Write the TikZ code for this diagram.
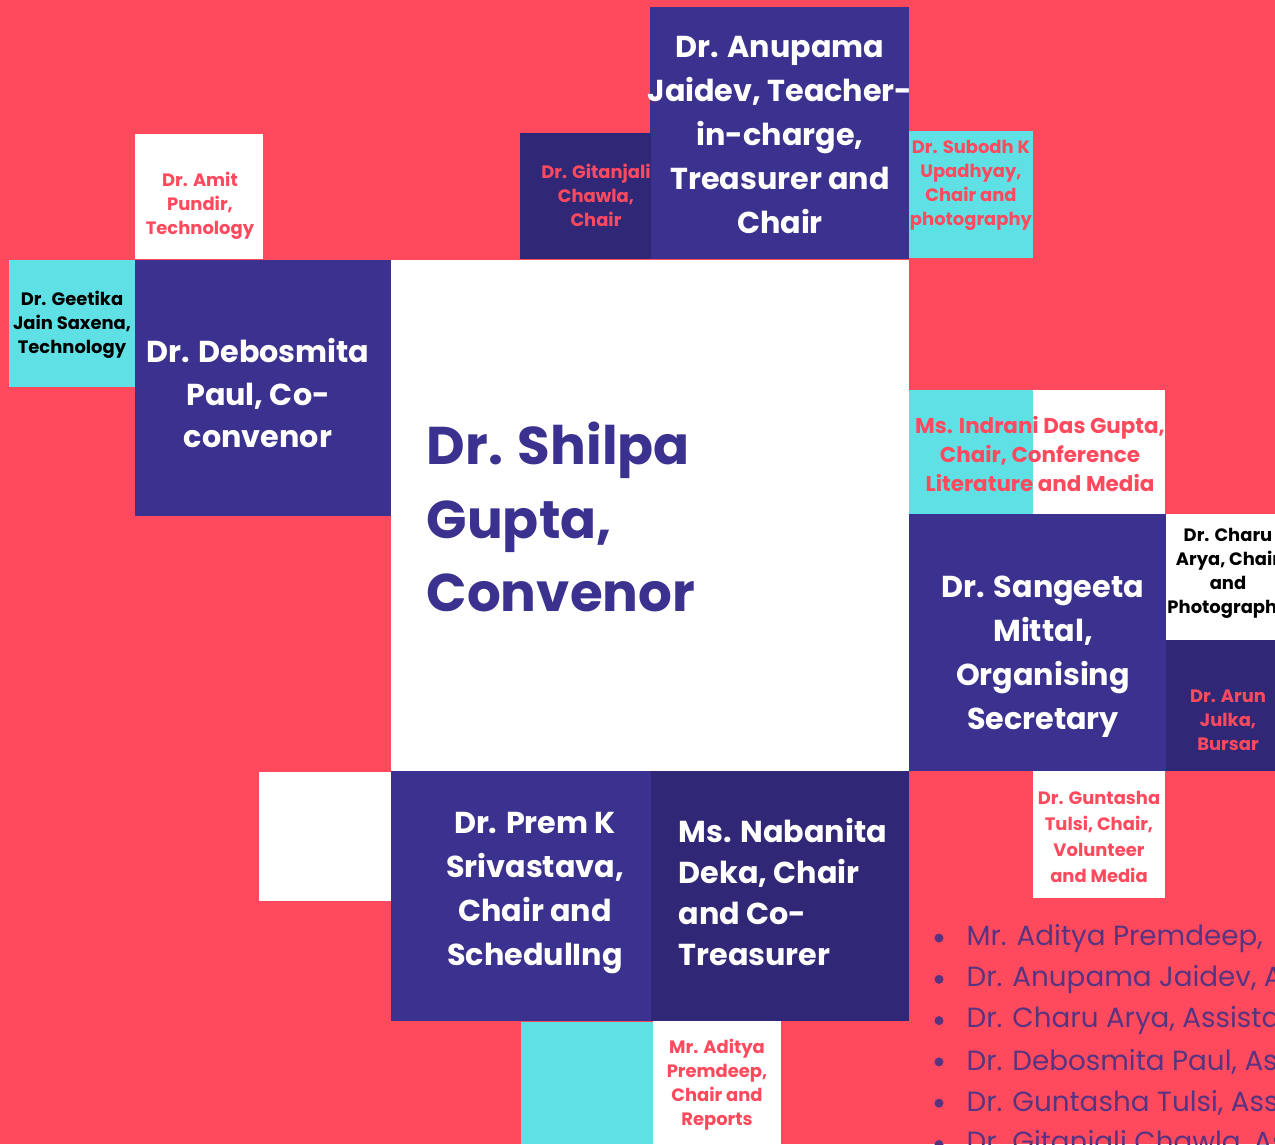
\documentclass[tikz,border=0pt]{standalone}
\usepackage{fontspec}
\setmainfont{Poppins}
\definecolor{coral}{RGB}{255,74,94}
\definecolor{indigo}{RGB}{59,49,143}
\definecolor{darkindigo}{RGB}{48,40,118}
\definecolor{aqua}{RGB}{94,224,229}
\definecolor{listtext}{RGB}{88,52,128}
\tikzset{
  bigname/.style={text=white, font=\bfseries\fontsize{8.6}{12.5}\selectfont, align=center, inner sep=0pt},
  smallname/.style={font=\bfseries\fontsize{5.1}{6.8}\selectfont, align=center, inner sep=0pt},
  listline/.style={text=listtext, inner sep=0pt, font=\fontsize{7.9}{10}\selectfont},
}

\begin{document}
\begin{tikzpicture}[x=0.01cm,y=-0.01cm]
\useasboundingbox (0,0) rectangle (1275,1144);
\clip (0,0) rectangle (1275,1144);
\fill[coral] (0,0) rectangle (1275,1144);

%coloured blocks
\fill[indigo] (650,7) rectangle (909,259);
\fill[darkindigo] (520,133) rectangle (651,259);
\fill[aqua] (909,131) rectangle (1033,258);
\fill[white] (135,134) rectangle (263,259);
\fill[aqua] (9,260) rectangle (137,387);
\fill[indigo] (135,260) rectangle (391,516);
\fill[white] (391,260) rectangle (909,771);
\fill[aqua] (909,390) rectangle (1033,514);
\fill[white] (1033,390) rectangle (1165,514);
\fill[indigo] (909,514) rectangle (1166,771);
\fill[white] (1166,514) rectangle (1294,640);
\fill[darkindigo] (1166,640) rectangle (1294,771);
\fill[white] (1033,771) rectangle (1165,898);
\fill[white] (259,772) rectangle (391,901);
\fill[indigo] (391,771) rectangle (651,1021);
\fill[darkindigo] (651,771) rectangle (909,1021);
\fill[aqua] (521,1022) rectangle (653,1144);
\fill[white] (653,1021) rectangle (781,1144);

%big names
\node[bigname] (anupama) at (780,135) {Dr. Anupama\\Jaidev, Teacher-\\in-charge,\\Treasurer and\\Chair};
\node[bigname, font=\bfseries\fontsize{8.6}{12.2}\selectfont] (debosmita) at (258,393) {Dr. Debosmita\\Paul, Co-\\convenor};
\node[bigname] (sangeeta) at (1043,657) {Dr. Sangeeta\\Mittal,\\Organising\\Secretary};
\node[bigname] (prem) at (535,893) {Dr. Prem K\\Srivastava,\\Chair and\\SchedulIng};
\node[bigname, anchor=west, align=left, font=\bfseries\fontsize{8.6}{11.7}\selectfont] (nabanita) at (678,892) {Ms. Nabanita\\Deka, Chair\\and Co-\\Treasurer};
\node[anchor=west, align=left, inner sep=0pt, text=indigo, font=\bfseries\fontsize{15.1}{21}\selectfont] (shilpa) at (426,517) {Dr. Shilpa\\Gupta,\\Convenor};

%small names
\node[smallname, text=coral] (gitanjali) at (596,195) {Dr. Gitanjali\\Chawla,\\Chair};
\node[smallname, text=coral] (subodh) at (971,185) {Dr. Subodh K\\Upadhyay,\\Chair and\\photography};
\node[smallname, text=coral] (amit) at (200,206) {Dr. Amit\\Pundir,\\Technology};
\node[smallname, text=black] (geetika) at (72,325) {Dr. Geetika\\Jain Saxena,\\Technology};
\node[smallname, text=coral, font=\bfseries\fontsize{6.1}{8.3}\selectfont] (indrani) at (1040,454) {Ms. Indrani Das Gupta,\\Chair, Conference\\Literature and Media};
\node[smallname, text=black] (charu) at (1228,573) {Dr. Charu\\Arya, Chair\\and\\Photography};
\node[smallname, text=coral] (arun) at (1228,720) {Dr. Arun\\Julka,\\Bursar};
\node[smallname, text=coral, font=\bfseries\fontsize{5.1}{7.4}\selectfont] (guntasha) at (1099,837) {Dr. Guntasha\\Tulsi, Chair,\\Volunteer\\and Media};
\node[smallname, text=coral] (aditya) at (717,1085) {Mr. Aditya\\Premdeep,\\Chair and\\Reports};

%faculty list
\foreach \who [count=\i from 0] in {{Mr. Aditya Premdeep,\ \ Assistant Professor},{Dr. Anupama Jaidev, Assistant Professor},{Dr. Charu Arya, Assistant Professor},{Dr. Debosmita Paul, Assistant Professor},{Dr. Guntasha Tulsi, Assistant Professor},{Dr. Gitanjali Chawla, Assistant Professor}}{
  \fill[listtext] (939,938+41.3*\i) circle [radius=4.5] coordinate (dot\i);
  \node[listline, anchor=west] (item\i) at (966,938+41.3*\i) {\who};
}
\end{tikzpicture}
\end{document}
